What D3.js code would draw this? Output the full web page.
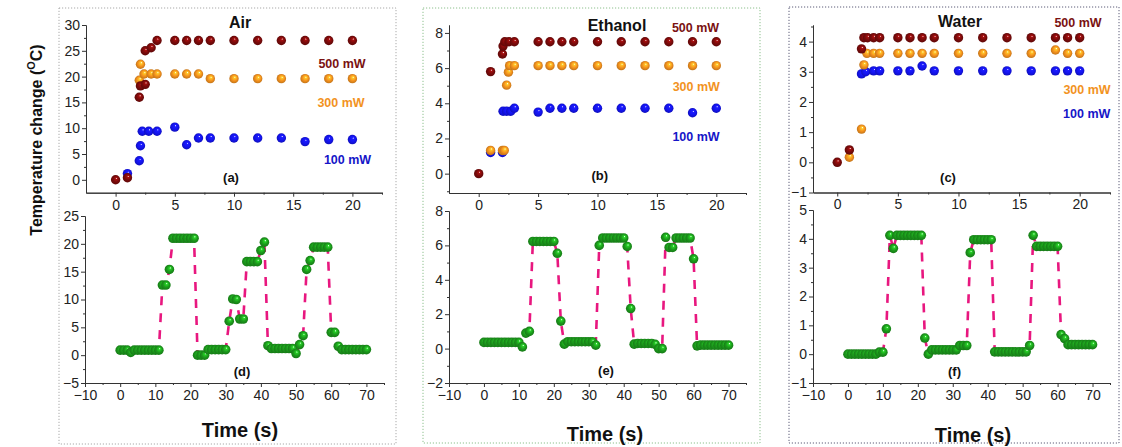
<!DOCTYPE html>
<html>
<head>
<meta charset="utf-8">
<script src="https://cdn.jsdelivr.net/npm/d3@7"></script>
<style>
  body { margin: 0; background: #fff; }
  svg { display: block; font-family: "Liberation Sans", Arial, sans-serif; }
</style>
</head>
<body>
<div class="canvas"></div>
<script>
// heating curves, top row (time in s, temperature change in C)
const air500T = [0, 1, 2, 2.1, 2.5, 2.5, 3, 3.5, 5, 6, 7, 8, 10, 12, 14, 16, 18, 20];
const air500V = [0, 0.4, 16, 18.2, 18.5, 25, 25.6, 27, 27, 27, 27, 27, 27, 27, 27, 27, 27, 27];
const air300T = [2, 2.1, 2.4, 3, 3.5, 5, 6, 7, 8, 10, 12, 14, 16, 18, 20];
const air300V = [19.3, 22.4, 20.5, 20.5, 20.5, 20.5, 20.5, 20.5, 19.6, 19.6, 19.6, 19.6, 19.6, 19.6, 19.6];
const air100T = [1, 2, 2.1, 2.25, 2.8, 3.5, 5, 6, 7, 8, 10, 12, 14, 16, 18, 20];
const air100V = [1.2, 3.7, 6.6, 9.4, 9.4, 9.4, 10.2, 6.8, 8.1, 8.1, 8.1, 8.1, 8.1, 7.4, 7.8, 7.8];

const eth500T = [0, 1, 2, 2.05, 2.2, 2.55, 3, 5, 6, 7, 8, 10, 12, 14, 16, 18, 20];
const eth500V = [0, 5.8, 6.8, 7.25, 7.5, 7.5, 7.5, 7.5, 7.5, 7.5, 7.5, 7.5, 7.5, 7.5, 7.5, 7.5, 7.5];
const eth300T = [1, 2, 2.15, 2.35, 2.5, 2.6, 3, 5, 6, 7, 8, 10, 12, 14, 16, 18, 20];
const eth300V = [1.32, 1.32, 1.32, 5.03, 5.77, 6.14, 6.14, 6.14, 6.14, 6.14, 6.14, 6.14, 6.14, 6.14, 6.14, 6.14, 6.14];
const eth100T = [1, 2, 2.05, 2.35, 2.7, 3, 5, 6, 7, 8, 10, 12, 14, 16, 18, 20];
const eth100V = [1.2, 1.2, 3.55, 3.55, 3.55, 3.72, 3.5, 3.72, 3.72, 3.72, 3.72, 3.72, 3.72, 3.72, 3.46, 3.72];

const wat500T = [0, 1, 2, 2.2, 2.5, 3, 3.5, 5, 6, 7, 8, 10, 12, 14, 16, 18, 19, 20];
const wat500V = [0, 0.41, 3.76, 4.13, 4.13, 4.13, 4.13, 4.13, 4.13, 4.13, 4.13, 4.13, 4.13, 4.13, 4.13, 4.13, 4.13, 4.13];
const wat300T = [1, 2, 2.2, 2.45, 3, 3.5, 5, 6, 7, 8, 10, 12, 14, 16, 18, 19, 20];
const wat300V = [0.17, 1.1, 3.23, 3.61, 3.61, 3.61, 3.61, 3.61, 3.61, 3.61, 3.61, 3.61, 3.61, 3.61, 3.72, 3.61, 3.61];
const wat100T = [2, 2.35, 3, 3.5, 5, 6, 7, 8, 10, 12, 14, 16, 18, 19, 20];
const wat100V = [2.93, 3.0, 3.03, 3.03, 3.03, 3.03, 3.19, 3.03, 3.03, 3.03, 3.03, 3.03, 3.03, 3.03, 3.03];

// on/off cycles, bottom row
const cycleT = [0, 1, 2, 3, 4, 5, 6, 7, 8, 9, 10, 11, 12, 13, 14, 15, 16, 17, 18, 19, 20,
  21, 22, 23, 24, 25, 26, 27, 28, 29, 30, 31, 32, 33, 34, 35, 36, 37, 38, 39, 40,
  41, 42, 43, 44, 45, 46, 47, 48, 49, 50, 51, 52, 53, 54, 55, 56, 57, 58, 59, 60,
  61, 62, 63, 64, 65, 66, 67, 68, 69, 70];
const airCycle = [0.9, 0.9, 0.9, 0.5, 0.9, 0.9, 0.9, 0.9, 0.9, 0.9, 0.9, 0.9, 12.6, 12.6, 15.4,
  21, 21, 21, 21, 21, 21, 21, 0, 0, 0, 1.0, 1.0, 1.0, 1.0, 1.0, 1.0, 6.1, 10.1, 10.0, 6.5, 6.5,
  16.8, 16.8, 16.8, 16.8, 18.8, 20.3, 1.7, 1.2, 1.2, 1.2, 1.2, 1.2, 1.2, 1.2, 0.3, 1.9, 3.5,
  15.4, 17.0, 19.4, 19.4, 19.4, 19.4, 19.4, 4.1, 4.1, 1.6, 1.0, 1.0, 1.0, 1.0, 1.0, 1.0, 1.0, 1.0];
const ethCycle = [0.36, 0.36, 0.36, 0.36, 0.36, 0.36, 0.36, 0.36, 0.36, 0.36, 0.36, 0.1, 0.9, 1.0,
  6.23, 6.23, 6.23, 6.23, 6.23, 6.23, 6.23, 5.54, 1.6, 0.26, 0.4, 0.4, 0.4, 0.4, 0.4, 0.4, 0.4, 0.4,
  0.2, 6.0, 6.43, 6.43, 6.43, 6.43, 6.43, 6.43, 6.43, 5.94, 2.33, 0.26, 0.3, 0.3, 0.3, 0.3, 0.3,
  0.25, 0.0, 0.0, 6.47, 5.88, 5.88, 6.43, 6.43, 6.43, 6.43, 6.43, 5.22, 0.16,
  0.2, 0.2, 0.2, 0.2, 0.2, 0.2, 0.2, 0.2, 0.2];
const watCycle = [0, 0, 0, 0, 0, 0, 0, 0, 0, 0.07, 0.07, 0.88, 4.12, 3.67,
  4.12, 4.12, 4.12, 4.12, 4.12, 4.12, 4.12, 4.12, 0.56, 0.0, 0.15, 0.15, 0.15, 0.15, 0.15, 0.15,
  0.15, 0.15, 0.3, 0.3, 0.3, 3.52, 3.97, 3.97, 3.97, 3.97, 3.97, 3.97, 0.08, 0.08, 0.08, 0.08,
  0.08, 0.08, 0.08, 0.08, 0.08, 0.08, 0.3, 4.12, 3.74, 3.74, 3.74, 3.74, 3.74, 3.74, 3.74, 0.68,
  0.54, 0.33, 0.33, 0.33, 0.33, 0.33, 0.33, 0.33, 0.33];

const powerLabels = ['500 mW', '300 mW', '100 mW'];
const panelNames = ['Air', 'Ethanol', 'Water'];
const topTags = ['(a)', '(b)', '(c)'];
const bottomTags = ['(d)', '(e)', '(f)'];

const xTopTicks = [0, 5, 10, 15, 20];
const xTopMinor = [2.5, 7.5, 12.5, 17.5, 22.5];
const xBotTicks = [-10, 0, 10, 20, 30, 40, 50, 60, 70];
const xBotMinor = [-5, 5, 15, 25, 35, 45, 55, 65, 75];

const colors = { red: '#7a0b0b', orange: '#f5921e', blue: '#1414f0', green: '#1c9a1c' };
const labelColors = ['#7a1212', '#f2931f', '#1616c8'];

const svg = d3.select('.canvas').append('svg')
    .attr('width', 1122)
    .attr('height', 447);

// shaded ball fills
const defs = svg.append('defs');
Object.entries(colors).forEach(([key, c]) => {
    const grad = defs.append('radialGradient')
        .attr('id', `ball-${key}`)
        .attr('cx', '50%').attr('cy', '50%').attr('r', '55%')
        .attr('fx', '60%').attr('fy', '33%');
    grad.append('stop').attr('offset', '0%').attr('stop-color', '#ffffff');
    grad.append('stop').attr('offset', '18%').attr('stop-color', d3.color(c).brighter(0.9));
    grad.append('stop').attr('offset', '55%').attr('stop-color', c);
    grad.append('stop').attr('offset', '100%').attr('stop-color', d3.color(c).darker(0.8));
});

const panels = [
    {
        border: '#a9a9a9', box: [59, 8, 396, 444],
        top: { xr: [86, 382], yr: [192.7, 25], xd: [-2.5, 22.5], yd: [-2.5, 30],
               yt: [0, 5, 10, 15, 20, 25, 30], ym: [2.5, 7.5, 12.5, 17.5, 22.5, 27.5] },
        bot: { xr: [85, 384], yr: [383, 216], yd: [-5, 25],
               yt: [-5, 0, 5, 10, 15, 20, 25], ym: [-2.5, 2.5, 7.5, 12.5, 17.5, 22.5] },
        series: [[air100T, air100V, 'blue'], [air300T, air300V, 'orange'], [air500T, air500V, 'red']],
        cycle: airCycle,
        title: [240, 28.3], labels: [[342, 67.5], [341, 106.7], [347.5, 164]],
        topTag: [231, 181.7], botTag: [242, 375.7], timeLabel: [240, 437.3]
    },
    {
        border: '#8dc08d', box: [423, 8, 760, 443],
        top: { xr: [449, 746], yr: [193, 25], xd: [-2.5, 22.5], yd: [-1.1, 8.45],
               yt: [0, 2, 4, 6, 8], ym: [-1, 1, 3, 5, 7] },
        bot: { xr: [449, 746], yr: [383, 211], yd: [-2, 8],
               yt: [-2, 0, 2, 4, 6, 8], ym: [-1, 1, 3, 5, 7] },
        series: [[eth100T, eth100V, 'blue'], [eth300T, eth300V, 'orange'], [eth500T, eth500V, 'red']],
        cycle: ethCycle,
        title: [617, 30.7], labels: [[695.5, 31.7], [696.3, 90.7], [696, 140.7]],
        topTag: [599.7, 180], botTag: [606, 375], timeLabel: [605, 440.7]
    },
    {
        border: '#5c5c78', box: [789, 7, 1119, 443],
        top: { xr: [813, 1110], yr: [192.5, 25], xd: [-2, 22.5], yd: [-1, 4.55],
               yt: [-1, 0, 1, 2, 3, 4], ym: [-0.5, 0.5, 1.5, 2.5, 3.5, 4.5] },
        bot: { xr: [813, 1110], yr: [383, 210], yd: [-1, 5],
               yt: [-1, 0, 1, 2, 3, 4, 5], ym: [-0.5, 0.5, 1.5, 2.5, 3.5, 4.5] },
        series: [[wat100T, wat100V, 'blue'], [wat300T, wat300V, 'orange'], [wat500T, wat500V, 'red']],
        cycle: watCycle,
        title: [960, 27.3], labels: [[1078, 26.7], [1087, 94.3], [1086.7, 118.3]],
        topTag: [948, 181.7], botTag: [954.5, 375.7], timeLabel: [973, 441.7]
    }
];

const fmt = d3.format('~g');

const styleAxis = (sel) => {
    sel.selectAll('path, line').attr('stroke', '#333').attr('stroke-width', 1);
    sel.selectAll('text').attr('font-size', '14px').attr('fill', '#222');
};

const drawAxes = (g, x, y, xt, xm, yt, ym) => {
    const y0 = y.range()[0];
    const x0 = x.range()[0];
    g.append('g').attr('transform', `translate(0,${y0})`)
        .call(d3.axisBottom(x).tickValues(xm).tickSize(2).tickSizeOuter(0).tickFormat(''))
        .call(styleAxis);
    g.append('g').attr('transform', `translate(0,${y0})`)
        .call(d3.axisBottom(x).tickValues(xt).tickSize(4).tickSizeOuter(0).tickPadding(3).tickFormat(fmt))
        .call(styleAxis);
    g.append('g').attr('transform', `translate(${x0},0)`)
        .call(d3.axisLeft(y).tickValues(ym).tickSize(2).tickSizeOuter(0).tickFormat(''))
        .call(styleAxis);
    g.append('g').attr('transform', `translate(${x0},0)`)
        .call(d3.axisLeft(y).tickValues(yt).tickSize(4).tickSizeOuter(0).tickPadding(2).tickFormat(fmt))
        .call(styleAxis);
};

const addText = (g, pos, txt, size, color, weight) => {
    g.append('text')
        .attr('x', pos[0]).attr('y', pos[1])
        .attr('text-anchor', 'middle')
        .attr('font-size', size)
        .attr('font-weight', weight || 'bold')
        .attr('fill', color || '#111')
        .text(txt);
};

panels.forEach((p, i) => {
    const g = svg.append('g').attr('class', 'panel');

    // dotted frame
    g.append('rect')
        .attr('x', p.box[0]).attr('y', p.box[1])
        .attr('width', p.box[2] - p.box[0]).attr('height', p.box[3] - p.box[1])
        .attr('fill', 'none')
        .attr('stroke', p.border)
        .attr('stroke-width', 1)
        .attr('stroke-dasharray', '1.2,1.8');

    // top: heating curves
    const xTop = d3.scaleLinear().domain(p.top.xd).range(p.top.xr);
    const yTop = d3.scaleLinear().domain(p.top.yd).range(p.top.yr);
    drawAxes(g, xTop, yTop, xTopTicks, xTopMinor, p.top.yt, p.top.ym);

    p.series.forEach(([ts, vs, key]) => {
        g.append('g').selectAll('circle')
            .data(d3.zip(ts, vs))
            .join('circle')
            .attr('cx', d => xTop(d[0]))
            .attr('cy', d => yTop(d[1]))
            .attr('r', 4.7)
            .attr('fill', `url(#ball-${key})`);
    });

    addText(g, p.title, panelNames[i], '16px');
    powerLabels.forEach((lab, j) => addText(g, p.labels[j], lab, '12.5px', labelColors[j]));
    addText(g, p.topTag, topTags[i], '13px');

    // bottom: on/off cycles
    const xBot = d3.scaleLinear().domain([-10, 75]).range(p.bot.xr);
    const yBot = d3.scaleLinear().domain(p.bot.yd).range(p.bot.yr);
    drawAxes(g, xBot, yBot, xBotTicks, xBotMinor, p.bot.yt, p.bot.ym);

    const pts = d3.zip(cycleT, p.cycle);
    const line = d3.line()
        .x(d => xBot(d[0]))
        .y(d => yBot(d[1]));

    g.append('path')
        .datum(pts)
        .attr('d', line)
        .attr('fill', 'none')
        .attr('stroke', '#e8177f')
        .attr('stroke-width', 2.6)
        .attr('stroke-dasharray', '9,8');

    g.append('g').selectAll('circle')
        .data(pts)
        .join('circle')
        .attr('cx', d => xBot(d[0]))
        .attr('cy', d => yBot(d[1]))
        .attr('r', 4.8)
        .attr('fill', 'url(#ball-green)');

    addText(g, p.botTag, bottomTags[i], '13px');
    addText(g, p.timeLabel, 'Time (s)', '20px');
});

// shared y label
const yl = svg.append('text')
    .attr('transform', 'translate(42,140) rotate(-90)')
    .attr('text-anchor', 'middle')
    .attr('font-size', '16px')
    .attr('font-weight', 'bold')
    .attr('fill', '#111');
yl.append('tspan').text('Temperature change (');
yl.append('tspan').attr('font-size', '11px').attr('dy', -7).text('O');
yl.append('tspan').attr('dy', 7).text('C)');
</script>
</body>
</html>
